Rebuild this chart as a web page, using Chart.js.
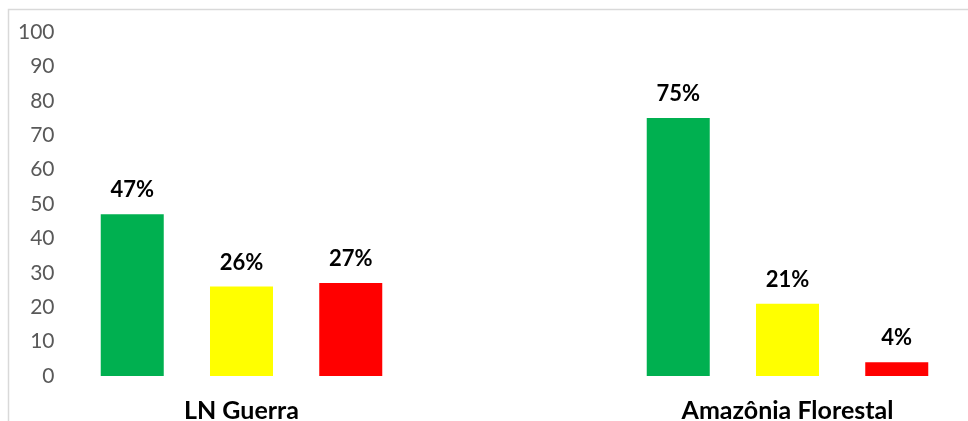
<!DOCTYPE html>
<html>
<head>
<meta charset="utf-8">
<script src="https://cdn.jsdelivr.net/npm/chart.js@4/dist/chart.umd.min.js"></script>
<style>
  html, body { margin: 0; padding: 0; background: #ffffff; }
  #wrap { position: relative; width: 968px; height: 421px; }
</style>
</head>
<body>
<div id="wrap"><canvas id="c" width="968" height="421"></canvas></div>
<script>
const categories = ['LN Guerra', 'Amazônia Florestal'];
const greenValues = [47, 75];
const yellowValues = [26, 21];
const redValues = [27, 4];
const yTicks = [0, 10, 20, 30, 40, 50, 60, 70, 80, 90, 100];

const borderPlugin = {
  id: 'outerBorder',
  beforeDraw(chart) {
    const ctx = chart.ctx;
    ctx.save();
    ctx.strokeStyle = '#D9D9D9';
    ctx.lineWidth = 1.5;
    ctx.beginPath();
    ctx.moveTo(8.5, 421);
    ctx.lineTo(8.5, 9.5);
    ctx.lineTo(968, 9.5);
    ctx.stroke();
    ctx.restore();
  }
};

const labelPlugin = {
  id: 'valueLabels',
  afterDatasetsDraw(chart) {
    const ctx = chart.ctx;
    ctx.save();
    ctx.font = 'bold 22px Lato, "Liberation Sans", sans-serif';
    ctx.fillStyle = '#000000';
    ctx.textAlign = 'center';
    ctx.textBaseline = 'alphabetic';
    chart.data.datasets.forEach((ds, i) => {
      const meta = chart.getDatasetMeta(i);
      meta.data.forEach((bar, j) => {
        ctx.fillText(ds.data[j] + '%', bar.x, bar.y - 17);
      });
    });
    ctx.restore();
  }
};

new Chart(document.getElementById('c'), {
  type: 'bar',
  data: {
    labels: categories,
    datasets: [
      { data: greenValues, backgroundColor: '#00B050' },
      { data: yellowValues, backgroundColor: '#FFFF00' },
      { data: redValues, backgroundColor: '#FF0000' }
    ]
  },
  options: {
    responsive: false,
    animation: false,
    devicePixelRatio: 1,
    layout: { padding: { left: 0, right: 180.5, top: 32, bottom: 0 } },
    datasets: { bar: { categoryPercentage: 0.6003, barPercentage: 0.5767, clip: false } },
    plugins: { legend: { display: false }, tooltip: { enabled: false } },
    scales: {
      x: {
        offset: false,
        grid: { display: false, drawTicks: false },
        border: { display: false },
        ticks: {
          color: '#000000',
          font: { family: 'Lato, "Liberation Sans", sans-serif', size: 25, weight: 'bold' },
          padding: 20,
          maxRotation: 0,
          autoSkip: false
        },
        afterFit(s) { s.height = 45; s.paddingLeft = 0; s.paddingRight = 0; }
      },
      y: {
        min: 0,
        max: 100,
        afterBuildTicks(s) { s.ticks = yTicks.map(v => ({ value: v })); },
        grid: { display: false, drawTicks: false },
        border: { display: false },
        ticks: {
          color: '#595959',
          font: { family: 'Lato, "Liberation Sans", sans-serif', size: 21 },
          padding: 187
        },
        afterFit(s) { s.width = 241.5; s.paddingTop = 0; s.paddingBottom = 0; }
      }
    }
  },
  plugins: [borderPlugin, labelPlugin]
});
</script>
</body>
</html>
